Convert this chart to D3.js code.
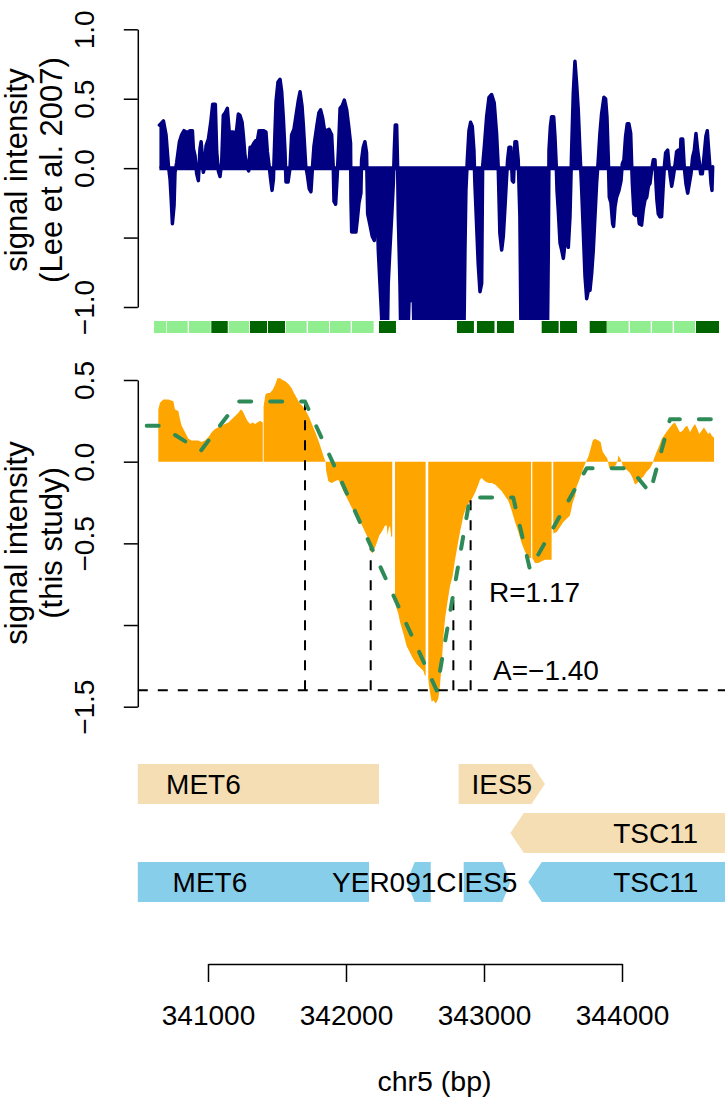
<!DOCTYPE html>
<html><head><meta charset="utf-8">
<script src="https://cdn.jsdelivr.net/npm/d3@7/dist/d3.min.js"></script>
<style>
body{margin:0;background:#fff}
svg{display:block;font-family:"Liberation Sans",Arial,Helvetica,sans-serif}
</style>
</head><body>
<svg id="chart" width="725" height="1102"></svg>
<script>
// ---------------- DATA ----------------
// Lee et al. 2007 signal: [chr5 position (bp), signal]
const leeSignal = [
[340648,0.31],[340677,0.34],[340696,0.24],[340713,0.02],[340725,-0.08],[340732,-0.20],[340742,-0.40],[340754,-0.27],
[340761,-0.03],[340773,0.04],[340793,0.19],[340809,0.24],[340826,0.27],[340841,0.26],[340858,0.26],[340870,0.27],
[340887,0.27],[340894,0.14],[340906,0.09],[340918,-0.04],[340930,-0.09],[340942,0.14],[340950,0.19],[340959,0.09],
[340966,-0.03],[340974,0.00],[340986,0.16],[341003,0.21],[341020,0.33],[341034,0.46],[341053,0.46],[341063,0.12],
[341075,-0.02],[341087,-0.06],[341099,0.04],[341111,0.38],[341126,0.40],[341140,0.43],[341155,0.25],[341169,0.26],
[341181,0.26],[341193,0.22],[341208,0.28],[341220,0.39],[341232,0.38],[341247,0.33],[341256,0.24],[341268,0.09],
[341285,0.00],[341295,-0.02],[341305,0.15],[341317,0.15],[341333,0.18],[341348,0.20],[341358,0.20],[341370,0.27],
[341384,0.27],[341401,0.27],[341420,0.26],[341430,0.12],[341445,0.00],[341454,-0.08],[341464,-0.16],[341474,-0.08],
[341483,0.19],[341493,0.48],[341507,0.62],[341522,0.64],[341534,0.55],[341546,0.36],[341558,0.12],[341565,-0.10],
[341580,-0.10],[341594,0.00],[341606,0.24],[341623,0.28],[341638,0.38],[341655,0.49],[341667,0.55],[341681,0.45],
[341691,0.31],[341708,0.02],[341720,-0.05],[341734,-0.15],[341746,-0.17],[341758,0.02],[341768,0.16],[341788,0.30],
[341804,0.40],[341816,0.42],[341831,0.36],[341843,0.28],[341860,0.27],[341877,0.28],[341896,0.24],[341908,0.00],
[341913,-0.24],[341925,-0.26],[341936,-0.06],[341946,0.15],[341957,0.43],[341973,0.45],[341988,0.49],[342005,0.42],
[342021,0.29],[342033,0.18],[342036,-0.23],[342041,-0.46],[342072,-0.46],[342082,-0.37],[342094,-0.25],[342108,-0.18],
[342113,0.06],[342125,0.15],[342137,0.19],[342149,0.11],[342157,-0.33],[342174,-0.41],[342190,-0.49],[342205,-0.52],
[342215,-0.24],[342224,-0.23],[342234,-0.59],[342246,-0.83],[342258,-1.07],[342270,-1.60],[342294,-1.60],[342306,-0.83],
[342318,-0.59],[342331,-0.35],[342343,-0.11],[342350,0.13],[342357,0.31],[342367,0.31],[342374,0.01],[342379,-0.35],
[342391,-0.83],[342403,-1.60],[342439,-1.60],[342456,-0.97],[342471,-0.91],[342488,-0.97],[342500,-1.60],[342850,-1.60],
[342862,-0.59],[342869,-0.16],[342879,0.06],[342891,0.27],[342903,0.33],[342915,0.30],[342927,0.13],[342934,-0.11],
[342946,-0.40],[342958,-0.69],[342971,-0.89],[342983,-0.83],[342990,0.01],[343002,0.15],[343019,0.37],[343036,0.51],
[343055,0.53],[343074,0.47],[343091,0.25],[343103,0.01],[343115,-0.47],[343128,-0.59],[343140,-0.49],[343152,-0.28],
[343164,-0.06],[343171,0.06],[343181,0.15],[343195,0.15],[343205,-0.09],[343214,-0.10],[343224,0.19],[343236,0.19],
[343248,0.06],[343260,-0.35],[343272,-1.60],[343455,-1.60],[343461,-1.10],[343466,-0.59],[343471,0.13],[343481,0.30],
[343490,0.37],[343505,0.37],[343514,0.23],[343524,0.01],[343529,-0.16],[343538,-0.30],[343551,-0.54],[343563,-0.59],
[343575,-0.65],[343587,-0.54],[343599,-0.45],[343611,-0.57],[343623,-0.35],[343635,0.13],[343647,0.54],[343659,0.77],
[343671,0.61],[343683,0.42],[343695,0.13],[343708,-0.16],[343720,-0.47],[343732,-0.78],[343744,-0.94],[343756,-0.88],
[343768,-0.88],[343780,-0.76],[343792,-0.59],[343804,-0.35],[343816,-0.11],[343828,0.06],[343840,0.25],[343852,0.39],
[343869,0.51],[343881,0.50],[343891,0.37],[343901,0.06],[343908,-0.21],[343920,-0.25],[343932,-0.40],[343939,-0.42],
[343949,-0.28],[343961,-0.21],[343978,-0.16],[343993,-0.09],[344002,0.03],[344014,0.06],[344026,0.23],[344038,0.32],
[344050,0.32],[344063,0.25],[344070,0.03],[344075,-0.11],[344087,-0.33],[344099,-0.34],[344113,-0.28],[344125,-0.40],
[344142,-0.41],[344154,-0.30],[344166,-0.23],[344179,-0.21],[344191,-0.13],[344203,-0.11],[344215,-0.01],[344227,0.06],
[344239,0.06],[344246,-0.11],[344253,-0.23],[344263,-0.33],[344275,-0.35],[344287,-0.35],[344297,-0.16],[344307,0.01],
[344316,0.11],[344331,0.13],[344340,0.03],[344350,-0.06],[344360,-0.13],[344372,-0.06],[344384,0.02],[344396,0.12],
[344408,0.13],[344420,0.01],[344427,0.21],[344440,0.21],[344451,0.01],[344463,-0.11],[344476,-0.18],[344488,-0.11],
[344500,-0.04],[344512,0.08],[344524,0.13],[344536,0.25],[344548,0.13],[344558,0.06],[344570,-0.04],[344582,-0.04],
[344594,0.08],[344608,0.23],[344618,0.27],[344628,0.13],[344637,0.01],[344645,-0.11],[344652,-0.16],[344657,0.01]
];

// This study signal: [bp, signal]; null = gap between probe segments
const studySignal = [
[340640,0.32],[340652,0.36],[340677,0.38],[340713,0.38],[340749,0.37],[340761,0.32],[340785,0.31],[340797,0.26],
[340809,0.22],[340834,0.18],[340858,0.14],[340882,0.13],[340906,0.13],[340930,0.13],[340954,0.12],[340978,0.13],
[341003,0.15],[341027,0.18],[341051,0.20],[341075,0.21],[341099,0.22],[341123,0.23],[341148,0.24],[341172,0.26],
[341196,0.28],[341220,0.30],[341237,0.32],[341251,0.31],[341268,0.28],[341285,0.25],[341305,0.23],[341324,0.24],
[341341,0.23],[341358,0.24],[341377,0.25],[341397,0.24],
null,
[341403,0.34],[341416,0.41],[341430,0.42],[341449,0.42],[341469,0.44],[341486,0.47],[341503,0.51],[341522,0.51],
[341541,0.50],[341565,0.49],[341589,0.47],[341606,0.45],[341623,0.42],[341643,0.39],[341662,0.36],[341686,0.34],
[341710,0.31],[341734,0.27],[341758,0.22],[341783,0.17],[341800,0.13],[341816,0.09],[341831,0.05],[341843,0.02],
[341853,0.00],[341855,-0.05],[341865,-0.09],[341872,-0.12],[341896,-0.13],[341920,-0.12],[341945,-0.11],[341961,-0.14],
[341981,-0.18],[342005,-0.22],[342029,-0.26],[342053,-0.30],[342077,-0.33],[342097,-0.36],[342116,-0.39],[342138,-0.43],
[342155,-0.46],[342169,-0.50],[342179,-0.55],[342193,-0.56],[342203,-0.54],[342222,-0.50],[342242,-0.45],[342258,-0.43],
[342271,-0.41],[342283,-0.39],[342295,-0.39],[342302,-0.45],[342309,-0.41],[342319,-0.39],[342328,-0.46],[342335,-0.46],
null,
[342355,-0.86],[342367,-0.90],[342379,-0.93],[342391,-0.98],[342415,-1.05],[342440,-1.13],[342464,-1.17],[342488,-1.21],
[342512,-1.24],[342536,-1.26],[342560,-1.28],[342572,-1.31],[342577,-1.31],
null,
[342596,-1.33],[342608,-1.41],[342621,-1.47],[342633,-1.46],[342652,-1.48],[342669,-1.45],[342681,-1.37],[342694,-1.23],
[342706,-1.07],[342718,-0.96],[342735,-0.86],[342754,-0.76],[342773,-0.70],[342790,-0.60],[342807,-0.52],[342826,-0.43],
[342851,-0.33],[342875,-0.27],[342894,-0.25],[342911,-0.23],[342935,-0.19],[342959,-0.14],[342971,-0.11],[342983,-0.10],
[343007,-0.12],[343032,-0.13],[343056,-0.13],[343080,-0.14],[343104,-0.16],[343128,-0.18],[343152,-0.21],[343177,-0.24],
[343201,-0.30],[343225,-0.37],[343249,-0.43],[343273,-0.50],[343297,-0.55],[343321,-0.59],[343341,-0.59],
null,
[343350,-0.59],[343370,-0.62],[343394,-0.62],[343418,-0.61],[343442,-0.60],[343466,-0.60],[343490,-0.60],
null,
[343502,-0.44],[343527,-0.43],[343551,-0.40],[343575,-0.37],[343599,-0.35],[343623,-0.33],[343643,-0.25],[343660,-0.21],
[343672,-0.15],[343691,-0.11],[343708,-0.07],[343725,-0.03],[343739,0.00],[343756,0.03],[343773,0.08],[343788,0.13],
[343804,0.14],[343829,0.13],[343845,0.12],[343860,0.06],[343877,0.04],[343894,0.02],[343908,-0.04],[343925,-0.04],
[343942,-0.03],[343957,-0.02],[343969,0.01],[343974,0.04],[343986,0.02],[343998,0.00],[344010,-0.04],[344034,-0.05],
[344058,-0.07],[344077,-0.10],[344094,-0.14],[344111,-0.13],[344130,-0.11],[344155,-0.09],[344179,-0.06],[344203,-0.04],
[344222,-0.01],[344232,0.02],[344251,0.06],[344271,0.10],[344288,0.14],[344312,0.17],[344329,0.19],[344348,0.21],
[344367,0.23],[344384,0.24],[344401,0.21],[344420,0.18],[344440,0.19],[344456,0.21],[344473,0.22],[344493,0.18],
[344512,0.21],[344529,0.23],[344546,0.20],[344560,0.17],[344577,0.19],[344594,0.21],[344609,0.19],[344625,0.17],
[344637,0.18],[344650,0.16],[344662,0.15],[344667,0.15]
];

// Segmentation fit (green dashed line): [bp, level]
const segmentFit = [
[340556,0.22],[340652,0.22],[340947,0.066],[341220,0.368],[341703,0.368],[342657,-1.40],[342898,-0.22],
[343212,-0.22],[343333,-0.66],[343744,-0.04],[344058,-0.04],[344203,-0.19],[344348,0.26],[344686,0.26]
];

// Peak boundaries (black dashed verticals) and threshold
const cutPositions = [341703, 342179, 342778, 342903];
const cutValues = [0.368, -0.516, -0.81, -0.22];
const thresholdA = -1.40;
const labelR = "R=1.17";
const labelA = "A=\u22121.40";

// Probe tiles (green bar)
const tileStart = [340609,340701,340862,341024,341150,341304,341435,341565,341725,341884,342043,342239,
                   342804,342949,343094,343418,343551,343766,343891,344058,344217,344377,344536];
const tileEnd   = [340696,340853,341020,341143,341297,341428,341558,341715,341877,342034,342200,342362,
                   342927,343076,343217,343541,343674,343889,344048,344208,344367,344529,344703];
const tileDark  = [0,0,0,1,0,1,1,0,0,0,0,1, 1,1,1,1,1,1,0,0,0,0,1];

// Genes: row 0/1 = transcripts (wheat), row 2 = ORFs (skyblue)
const geneName    = ["MET6","IES5","TSC11","MET6","YER091C","IES5","TSC11"];
const geneStart   = [339696,342816,343191,339862,342440,342853,343321];
const geneEnd     = [342239,343442,345297,342167,342614,343191,345169];
const geneStrand  = ["-","+","-","-","-","+","-"];
const geneRow     = [0,0,1,2,2,2,2];
const geneLabelAt = [340967,343129,344244,341014,342350,343022,344245];

const xTicks = [341000,342000,343000,344000];
const topTicks = [1,0.5,0,-0.5,-1];
const topTickLabels = ["1.0","0.5","0.0","","\u22121.0"];
const botTicks = [0.5,0,-0.5,-1,-1.5];
const botTickLabels = ["0.5","0.0","\u22120.5","","\u22121.5"];

// ---------------- DRAW ----------------
const svg = d3.select("#chart");
const plotL = 137.8, plotR = 731;
const x = d3.scaleLinear().domain([341000,344000]).range([208,622]);
const yTop = d3.scaleLinear().domain([-1,1]).range([307,29.3]);
const yBot = d3.scaleLinear().domain([-1.5,0.5]).range([706.7,380]);

const defs = svg.append("defs");
defs.append("clipPath").attr("id","clipTop").append("rect")
  .attr("x",plotL).attr("y",18).attr("width",plotR-plotL).attr("height",302);
defs.append("clipPath").attr("id","clipBot").append("rect")
  .attr("x",plotL).attr("y",367).attr("width",plotR-plotL).attr("height",353);
defs.append("clipPath").attr("id","clipGene").append("rect")
  .attr("x",plotL).attr("y",740).attr("width",plotR-plotL).attr("height",180);

const navy = "#000080";
// --- Top panel
const gTop = svg.append("g").attr("clip-path","url(#clipTop)");
gTop.append("path").datum(leeSignal)
  .attr("d", d3.area().x(d=>x(d[0])).y0(yTop(0)).y1(d=>yTop(d[1])))
  .attr("fill", navy);
gTop.append("path").datum(leeSignal)
  .attr("d", d3.line().x(d=>x(d[0])).y(d=>yTop(d[1])))
  .attr("fill","none").attr("stroke",navy).attr("stroke-width",3.5).attr("stroke-linejoin","round").attr("stroke-linecap","round");
gTop.append("line")
  .attr("x1",x(leeSignal[0][0])).attr("x2",x(leeSignal[leeSignal.length-1][0]))
  .attr("y1",yTop(0)).attr("y2",yTop(0)).attr("stroke",navy).attr("stroke-width",4);

function yAxis(scale, ticks, labels, xpos){
  const ax = d3.axisLeft(scale).tickValues(ticks).tickFormat((d,i)=>labels[i]).tickSize(14).tickSizeOuter(0);
  const g = svg.append("g").attr("transform",`translate(${xpos},0)`).call(ax);
  g.select(".domain").attr("stroke","#000").attr("stroke-width",1.5);
  g.selectAll(".tick line").attr("stroke","#000").attr("stroke-width",1.5);
  g.selectAll(".tick text").attr("x",0).attr("dy",null).attr("y",-43.5)
    .attr("transform","rotate(-90)").attr("text-anchor","middle")
    .attr("font-size",28).attr("font-family","Liberation Sans, Arial, sans-serif").attr("fill","#000");
  return g;
}
yAxis(yTop, topTicks, topTickLabels, plotL);

function yTitle(lines, cy){
  const xs = [27, 62];
  lines.forEach((t,i)=>{
    svg.append("text").attr("transform",`translate(${xs[i]},${cy}) rotate(-90)`)
      .attr("text-anchor","middle").attr("font-size",31).text(t);
  });
}
yTitle(["signal intensity","(Lee et al. 2007)"], 170);

// Tile bar
svg.append("g").selectAll("rect").data(tileStart).join("rect")
  .attr("x",(d,i)=>x(tileStart[i])).attr("width",(d,i)=>x(tileEnd[i])-x(tileStart[i]))
  .attr("y",321).attr("height",12)
  .attr("fill",(d,i)=>tileDark[i] ? "#006400" : "#90EE90");

// --- Bottom panel
const gBot = svg.append("g").attr("clip-path","url(#clipBot)");
gBot.append("path").datum(studySignal)
  .attr("d", d3.area().defined(d=>d!==null).x(d=>x(d[0])).y0(yBot(0)).y1(d=>yBot(d[1])))
  .attr("fill","#FFA500");
gBot.append("line").attr("x1",plotL).attr("x2",plotR)
  .attr("y1",yBot(thresholdA)).attr("y2",yBot(thresholdA))
  .attr("stroke","#000").attr("stroke-width",2).attr("stroke-dasharray","10,10");
gBot.selectAll("line.cut").data(cutPositions).join("line").attr("class","cut")
  .attr("x1",d=>x(d)).attr("x2",d=>x(d))
  .attr("y1",yBot(thresholdA)).attr("y2",(d,i)=>yBot(cutValues[i]))
  .attr("stroke","#000").attr("stroke-width",2).attr("stroke-dasharray","10,10");
gBot.append("path").datum(segmentFit)
  .attr("d", d3.line().x(d=>x(d[0])).y(d=>yBot(d[1])))
  .attr("fill","none").attr("stroke","#2E8B57").attr("stroke-width",4)
  .attr("stroke-dasharray","12,19").attr("stroke-linecap","round").attr("stroke-linejoin","round");
svg.append("text").attr("x",489).attr("y",602).attr("font-size",28).text(labelR);
svg.append("text").attr("x",493).attr("y",680).attr("font-size",28).text(labelA);

yAxis(yBot, botTicks, botTickLabels, plotL);
yTitle(["signal intensity","(this study)"], 543);

// --- Gene track
const rowTop = [764, 813, 862], rowH = 40;
const gGene = svg.append("g");
geneName.forEach((name,i)=>{
  const x0 = x(geneStart[i]), x1 = x(geneEnd[i]);
  const yt = rowTop[geneRow[i]], yb = yt+rowH, ym = yt+rowH/2;
  const h = (x1-x0) > 80 ? 13.5 : 8;
  const pts = geneStrand[i] === "+"
    ? [[x0,yt],[x1-h,yt],[x1,ym],[x1-h,yb],[x0,yb]]
    : [[x0,ym],[x0+h,yt],[x1,yt],[x1,yb],[x0+h,yb]];
  gGene.append("polygon").attr("clip-path","url(#clipGene)")
    .attr("points", pts.map(p=>p.join(",")).join(" "))
    .attr("fill", geneRow[i] < 2 ? "#F5DEB3" : "#87CEEB");
  gGene.append("text").attr("x",x(geneLabelAt[i])).attr("y",ym+10)
    .attr("text-anchor","middle").attr("font-size",28).text(name);
});

// --- X axis
const xa = d3.axisBottom(x).tickValues(xTicks).tickFormat(d3.format("d")).tickSize(18).tickSizeOuter(0);
const gx = svg.append("g").attr("transform","translate(0,964)").call(xa);
gx.select(".domain").attr("stroke","#000").attr("stroke-width",1.5);
gx.selectAll(".tick line").attr("stroke","#000").attr("stroke-width",1.5);
gx.selectAll(".tick text").attr("y",61).attr("dy",null).attr("font-size",28)
  .attr("font-family","Liberation Sans, Arial, sans-serif").attr("fill","#000");
svg.append("text").attr("x",434.5).attr("y",1091).attr("text-anchor","middle").attr("font-size",28.5).text("chr5 (bp)");
</script>
</body></html>
